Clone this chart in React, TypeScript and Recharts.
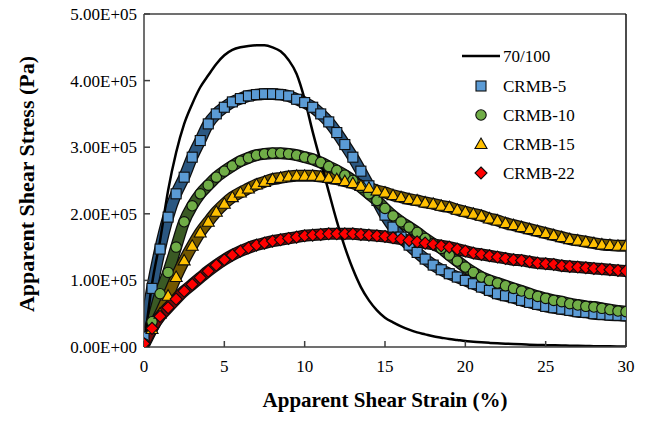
import React from "react";
import { ComposedChart, Line, XAxis, YAxis, ReferenceLine, Legend } from "recharts";

// strain (%) sampled every 0.5 %
const strain = [
  0, 0.5, 1, 1.5, 2, 2.5, 3, 3.5, 4, 4.5, 5, 5.5, 6, 6.5, 7, 7.5, 8, 8.5, 9, 9.5,
  10, 10.5, 11, 11.5, 12, 12.5, 13, 13.5, 14, 14.5, 15, 15.5, 16, 16.5, 17, 17.5,
  18, 18.5, 19, 19.5, 20, 20.5, 21, 21.5, 22, 22.5, 23, 23.5, 24, 24.5, 25, 25.5,
  26, 26.5, 27, 27.5, 28, 28.5, 29, 29.5, 30,
];

// apparent shear stress, in units of 1E+05 Pa
const base70100 = [
  0, 0.95, 1.6, 2.35, 2.92, 3.35, 3.65, 3.9, 4.08, 4.25, 4.38, 4.46, 4.5, 4.52, 4.53,
  4.53, 4.5, 4.44, 4.31, 4.1, 3.72, 3.23, 2.78, 2.33, 1.89, 1.5, 1.17, 0.9, 0.7, 0.55,
  0.44, 0.37, 0.31, 0.26, 0.22, 0.19, 0.16, 0.14, 0.12, 0.105, 0.09, 0.08, 0.07,
  0.062, 0.055, 0.05, 0.045, 0.04, 0.035, 0.031, 0.028, 0.025, 0.022, 0.02, 0.017,
  0.015, 0.013, 0.011, 0.01, 0.009, 0.008,
];
const crmb5 = [
  0.15, 0.88, 1.47, 1.95, 2.3, 2.55, 2.85, 3.1, 3.35, 3.5, 3.6, 3.68, 3.73, 3.77, 3.79,
  3.8, 3.8, 3.79, 3.77, 3.72, 3.67, 3.6, 3.5, 3.38, 3.22, 3.04, 2.85, 2.64, 2.42, 2.2,
  1.98, 1.8, 1.65, 1.53, 1.42, 1.32, 1.23, 1.16, 1.1, 1.05, 1.0, 0.95, 0.9, 0.85, 0.8,
  0.77, 0.74, 0.7, 0.67, 0.64, 0.61, 0.59, 0.57, 0.55, 0.53, 0.52, 0.5, 0.49, 0.48,
  0.475, 0.47,
];
const crmb10 = [
  0.05, 0.38, 0.8, 1.12, 1.5, 1.88, 2.12, 2.3, 2.43, 2.55, 2.64, 2.72, 2.79, 2.84, 2.88,
  2.9, 2.91, 2.91, 2.9, 2.88, 2.85, 2.82, 2.77, 2.71, 2.65, 2.58, 2.5, 2.4, 2.3, 2.2,
  2.08, 1.97, 1.88, 1.8, 1.72, 1.63, 1.55, 1.48, 1.38, 1.29, 1.2, 1.12, 1.05, 1.0, 0.96,
  0.92, 0.88, 0.84, 0.8, 0.76, 0.73, 0.7, 0.68, 0.65, 0.63, 0.61, 0.6, 0.58, 0.56,
  0.54, 0.53,
];
const crmb15 = [
  0.03, 0.27, 0.5, 0.77, 1.05, 1.3, 1.52, 1.72, 1.88, 2.03, 2.15, 2.25, 2.32, 2.38, 2.44,
  2.48, 2.52, 2.54, 2.56, 2.57, 2.57, 2.57, 2.56, 2.54, 2.52, 2.49, 2.46, 2.42, 2.39,
  2.35, 2.32, 2.28, 2.25, 2.22, 2.2, 2.17, 2.15, 2.12, 2.1, 2.06, 2.03, 2.0, 1.97, 1.93,
  1.9, 1.86, 1.83, 1.8, 1.77, 1.74, 1.71, 1.68, 1.65, 1.62, 1.6, 1.58, 1.56, 1.54, 1.53,
  1.52, 1.52,
];
const crmb22 = [
  0.05, 0.28, 0.46, 0.59, 0.72, 0.84, 0.94, 1.04, 1.14, 1.23, 1.31, 1.38, 1.44, 1.49,
  1.53, 1.56, 1.59, 1.61, 1.63, 1.65, 1.67, 1.68, 1.69, 1.7, 1.7, 1.7, 1.7, 1.69, 1.68,
  1.67, 1.66, 1.64, 1.62, 1.6, 1.58, 1.56, 1.54, 1.52, 1.5, 1.47, 1.44, 1.41, 1.39,
  1.37, 1.35, 1.33, 1.31, 1.3, 1.28, 1.26, 1.25, 1.24, 1.22, 1.21, 1.2, 1.19, 1.18,
  1.17, 1.16, 1.15, 1.14,
];

const xTicks = [0, 5, 10, 15, 20, 25, 30];
const yTicks = [0, 100000, 200000, 300000, 400000, 500000];

const FONT = "Liberation Serif, Times New Roman, serif";
const AXIS = "#404040";

const toPoints = (ys: number[]) => strain.map((x, i) => ({ x, y: ys[i] * 1e5 }));

const fmtSci = (v: number) => {
  if (v === 0) return "0.00E+00";
  const e = Math.floor(Math.log10(v));
  const m = (v / Math.pow(10, e)).toFixed(2);
  return `${m}E+${String(e).padStart(2, "0")}`;
};

type Shape = "square" | "circle" | "triangle" | "diamond";

function Marker({ cx, cy, shape, fill }: { cx: number; cy: number; shape: Shape; fill: string }) {
  const s = { fill, stroke: "#0d0d0d", strokeWidth: 1.1 };
  if (shape === "square") return <rect x={cx - 5} y={cy - 5} width={10} height={10} {...s} />;
  if (shape === "circle") return <circle cx={cx} cy={cy} r={5.2} {...s} />;
  if (shape === "triangle")
    return <polygon points={`${cx},${cy - 6} ${cx + 6},${cy + 4.5} ${cx - 6},${cy + 4.5}`} {...s} />;
  return <polygon points={`${cx},${cy - 6} ${cx + 6},${cy} ${cx},${cy + 6} ${cx - 6},${cy}`} {...s} />;
}

const series = [
  { name: "CRMB-5", data: toPoints(crmb5), shape: "square" as Shape, fill: "#5b9bd5", band: "#2b5781" },
  { name: "CRMB-10", data: toPoints(crmb10), shape: "circle" as Shape, fill: "#70ad47", band: "#3a5a24" },
  { name: "CRMB-15", data: toPoints(crmb15), shape: "triangle" as Shape, fill: "#ffc000", band: "#735700" },
  { name: "CRMB-22", data: toPoints(crmb22), shape: "diamond" as Shape, fill: "#ff0000", band: "#740a0a" },
];

function LegendBox() {
  const rows = [16, 46, 75, 104, 133];
  return (
    <svg width={170} height={150} style={{ fontFamily: FONT, fontSize: 17 }}>
      <line x1={7} x2={45} y1={rows[0]} y2={rows[0]} stroke="#000" strokeWidth={2.5} />
      <text x={48} y={rows[0]} dominantBaseline="central" fill="#000">70/100</text>
      {series.map((s, i) => (
        <g key={s.name}>
          <Marker cx={26} cy={rows[i + 1]} shape={s.shape} fill={s.fill} />
          <text x={48} y={rows[i + 1]} dominantBaseline="central" fill="#000">
            {s.name}
          </text>
        </g>
      ))}
    </svg>
  );
}

export default function App() {
  return (
    <div style={{ position: "absolute", left: 0, top: 0, background: "#fff" }}>
      <ComposedChart width={649} height={422} margin={{ top: 14, right: 23, bottom: 0, left: 0 }}>
        <XAxis
          type="number"
          dataKey="x"
          domain={[0, 30]}
          ticks={xTicks}
          height={75}
          tickSize={-6}
          tickMargin={19}
          stroke={AXIS}
          strokeWidth={1.5}
          tick={{ fontSize: 17, fill: "#000", fontFamily: FONT }}
          allowDataOverflow
        />
        <YAxis
          type="number"
          dataKey="y"
          domain={[0, 500000]}
          ticks={yTicks}
          width={144}
          tickSize={-6}
          tickMargin={13}
          stroke={AXIS}
          strokeWidth={1.5}
          tickFormatter={fmtSci}
          tick={{ fontSize: 17, fill: "#000", fontFamily: FONT }}
          allowDataOverflow
        />
        <ReferenceLine y={500000} stroke={AXIS} strokeWidth={1.5} />
        <ReferenceLine x={30} stroke="#111" strokeWidth={1.5} />

        {series.map((s) => [
          <Line
            key={s.name + "-edge"}
            data={s.data}
            dataKey="y"
            type="monotone"
            stroke="#0d0d0d"
            strokeWidth={12}
            dot={false}
            activeDot={false}
            legendType="none"
            isAnimationActive={false}
          />,
          <Line
            key={s.name + "-band"}
            data={s.data}
            dataKey="y"
            type="monotone"
            stroke={s.band}
            strokeWidth={9.5}
            dot={false}
            activeDot={false}
            legendType="none"
            isAnimationActive={false}
          />,
          <Line
            key={s.name}
            name={s.name}
            data={s.data}
            dataKey="y"
            stroke="none"
            dot={(p: any) => <Marker key={p.index} cx={p.cx} cy={p.cy} shape={s.shape} fill={s.fill} />}
            activeDot={false}
            isAnimationActive={false}
          />,
        ])}

        <Line
          name="70/100"
          data={toPoints(base70100)}
          dataKey="y"
          type="monotone"
          stroke="#000"
          strokeWidth={2.5}
          dot={false}
          activeDot={false}
          isAnimationActive={false}
        />

        <Legend
          layout="horizontal"
          verticalAlign="middle"
          content={() => <LegendBox />}
          wrapperStyle={{ position: "absolute", left: 455, top: 40, width: 170, height: 150 }}
        />

        <text
          x={385}
          y={400}
          textAnchor="middle"
          dominantBaseline="central"
          style={{ fontFamily: FONT, fontSize: 21, fontWeight: "bold" }}
        >
          Apparent Shear Strain (%)
        </text>
        <text
          x={26}
          y={184}
          textAnchor="middle"
          dominantBaseline="central"
          transform="rotate(-90 26 184)"
          style={{ fontFamily: FONT, fontSize: 22, fontWeight: "bold" }}
        >
          Apparent Shear Stress (Pa)
        </text>
      </ComposedChart>
    </div>
  );
}
